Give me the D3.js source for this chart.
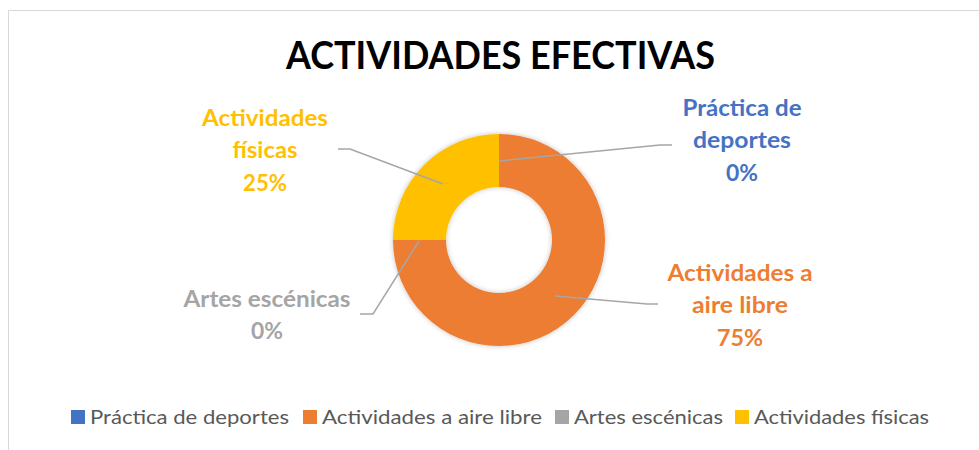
<!DOCTYPE html>
<html><head><meta charset="utf-8">
<script src="https://cdn.jsdelivr.net/npm/d3@7"></script>
<style>body{margin:0;background:#fff}svg{display:block}text{font-family:Lato,"Open Sans",sans-serif}</style>
</head><body><svg id="c" width="979" height="450"></svg>
<script>
const title = "ACTIVIDADES EFECTIVAS";
const categories = ["Práctica de deportes", "Actividades a aire libre", "Artes escénicas", "Actividades físicas"];
const values = [0, 75, 0, 25];
const colors = ["#4472c4", "#ed7d31", "#a5a5a5", "#ffc000"];
const labelLines = [["Práctica de", "deportes"], ["Actividades a", "aire libre"], ["Artes escénicas"], ["Actividades", "físicas"]];

const svg = d3.select("#c");
// chart border
svg.append("path").attr("d", "M8.5,450 V10.5 H979").attr("fill", "none").attr("stroke", "#d9d9d9").attr("stroke-width", 1);

const defs = svg.append("defs");
const f = defs.append("filter").attr("id", "sh").attr("x", "-20%").attr("y", "-20%").attr("width", "140%").attr("height", "140%");
f.append("feDropShadow").attr("dx", 0).attr("dy", 0).attr("stdDeviation", 2.5).attr("flood-color", "#000").attr("flood-opacity", 0.25);

svg.append("text").attr("x", 500.5).attr("y", 69).attr("text-anchor", "middle")
  .attr("font-size", 39).attr("font-weight", 700).attr("fill", "#000")
  .attr("textLength", 429).attr("lengthAdjust", "spacingAndGlyphs").text(title);

const cx = 499, cy = 240, rOut = 106, rIn = 53;
const pie = d3.pie().sort(null).value(d => d)(values);
const arc = d3.arc().innerRadius(rIn).outerRadius(rOut);
const g = svg.append("g").attr("transform", `translate(${cx},${cy})`);
g.append("g").attr("filter", "url(#sh)").selectAll("path").data(pie).join("path")
  .attr("d", arc).attr("fill", (d, i) => colors[i]);

const total = d3.sum(values);
const pct = d3.format(".0%");

// label layout (relative positions for leader lines and text blocks)
const labelInfo = [
  {start: [0, -79], bend: [161, -95], end: [173, -95], tx: 742, ty: 116, w: [119, 98]},
  {start: [56, 56], bend: [148, 64], end: [159, 64], tx: 740, ty: 281, w: [145, 96]},
  {start: [-80, 1], bend: [-126, 74], end: [-139, 74], tx: 267, ty: 307, w: [167]},
  {start: [-56, -56], bend: [-149, -91], end: [-161, -91], tx: 265, ty: 126, w: [126, 65]}
];
const pctW = [32, 46, 32, 44];

pie.forEach((d, i) => {
  const L = labelInfo[i];
  g.append("polyline").attr("points", [L.start, L.bend, L.end].map(p => p.join(",")).join(" "))
    .attr("fill", "none").attr("stroke", "#a6a6a6").attr("stroke-width", 1.5);
  const lines = labelLines[i].concat([pct(values[i] / total)]);
  const t = svg.append("text").attr("text-anchor", "middle").attr("font-size", 22).attr("font-weight", 700).attr("fill", colors[i]);
  lines.forEach((s, j) => {
    const w = j < L.w.length ? L.w[j] : pctW[i];
    t.append("tspan").attr("x", L.tx).attr("y", L.ty + j * 32.3)
      .attr("textLength", w).attr("lengthAdjust", "spacingAndGlyphs").text(s);
  });
});

// legend
const legX = [71, 303, 555, 735];
const legW = [199, 220, 149, 175];
const lg = svg.append("g");
categories.forEach((c, i) => {
  lg.append("rect").attr("x", legX[i]).attr("y", 410).attr("width", 14).attr("height", 14).attr("fill", colors[i]);
  lg.append("text").attr("x", legX[i] + 19).attr("y", 424).attr("font-size", 20).attr("fill", "#595959")
    .attr("textLength", legW[i]).attr("lengthAdjust", "spacingAndGlyphs").text(c);
});
</script></body></html>
